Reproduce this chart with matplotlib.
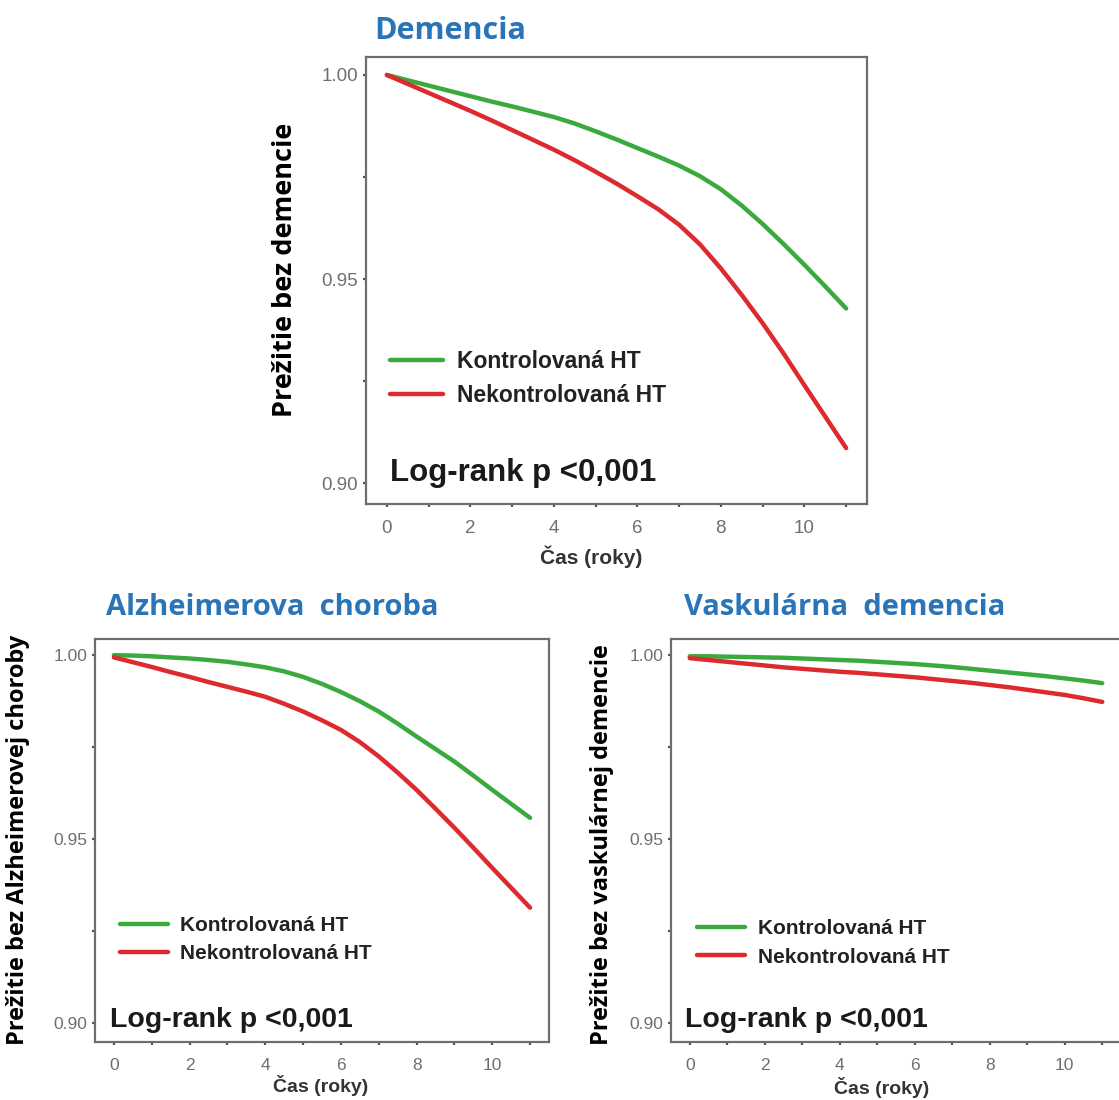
import numpy as np
import matplotlib
matplotlib.use("Agg")
import matplotlib.pyplot as plt
from matplotlib.ticker import MultipleLocator, FormatStrFormatter

# ---------------- Data ----------------
years = [0, 0.5, 1, 1.5, 2, 2.5, 3, 3.5, 4, 4.5, 5, 5.5,
         6, 6.5, 7, 7.5, 8, 8.5, 9, 9.5, 10, 10.5, 11]

dem_controlled = [1.000, 0.9987, 0.9974, 0.9961, 0.9948, 0.9935, 0.9923, 0.9910, 0.9897, 0.9881, 0.9862, 0.9842,
                  0.9821, 0.9800, 0.9778, 0.9752, 0.9720, 0.9680, 0.9635, 0.9586, 0.9535, 0.9482, 0.9428]
dem_uncontrolled = [1.000, 0.9978, 0.9956, 0.9934, 0.9912, 0.9889, 0.9865, 0.9841, 0.9817, 0.9791, 0.9763, 0.9734,
                    0.9703, 0.9671, 0.9633, 0.9585, 0.9526, 0.9461, 0.9392, 0.9318, 0.9240, 0.9163, 0.9086]

alz_controlled = [1.000, 0.9999, 0.9997, 0.9994, 0.9991, 0.9987, 0.9982, 0.9975, 0.9967, 0.9956, 0.9941, 0.9922,
                  0.9900, 0.9875, 0.9847, 0.9814, 0.9779, 0.9745, 0.9711, 0.9673, 0.9634, 0.9596, 0.9558]
alz_uncontrolled = [0.9994, 0.9981, 0.9968, 0.9954, 0.9941, 0.9927, 0.9914, 0.9901, 0.9887, 0.9868, 0.9847, 0.9823,
                    0.9797, 0.9764, 0.9725, 0.9681, 0.9634, 0.9583, 0.9531, 0.9477, 0.9422, 0.9368, 0.9314]

vas_controlled = [0.9997, 0.9997, 0.9996, 0.9995, 0.9994, 0.9993, 0.9991, 0.9989, 0.9987, 0.9985, 0.9982, 0.9979,
                  0.9976, 0.9972, 0.9968, 0.9963, 0.9958, 0.9953, 0.9948, 0.9943, 0.9937, 0.9931, 0.9924]
vas_uncontrolled = [0.9992, 0.9987, 0.9982, 0.9977, 0.9972, 0.9967, 0.9963, 0.9959, 0.9955, 0.9952, 0.9948, 0.9944,
                    0.9940, 0.9935, 0.9930, 0.9925, 0.9919, 0.9913, 0.9906, 0.9899, 0.9892, 0.9883, 0.9873]

titles = ["Demencia", "Alzheimerova  choroba", "Vaskulárna  demencia"]
ylabels = ["Prežitie bez demencie",
           "Prežitie bez Alzheimerovej choroby",
           "Prežitie bez vaskulárnej demencie"]
series_labels = ["Kontrolovaná HT", "Nekontrolovaná HT"]
xlabel = "Čas (roky)"
pvalue_text = "Log-rank p <0,001"

GREEN = "#3aaa3f"
RED = "#dc2a2e"
TITLE_BLUE = "#2a74b8"
SPINE = "#6e6e6e"
TICKLBL = "#6f6f6f"

plt.rcParams['font.family'] = ['Liberation Sans', 'DejaVu Sans']

fig = plt.figure(figsize=(11.19, 11.0), dpi=100)
W, H = 1119, 1100


def add_axes_px(left, top, right, bottom):
    return fig.add_axes([left / W, 1 - bottom / H, (right - left) / W, (bottom - top) / H])


panels = [
    dict(box=(366, 57, 867, 504), green=dem_controlled, red=dem_uncontrolled,
         title_xy=(0.168, 1.059), ylab_xy=(-0.162, 0.523), xlab_xy=(0.449, -0.119),
         leg_xy=(0.048, 0.281), p_xy=(0.048, 0.069), leg_fs=16.5, ylab_fs=19.5, p_fs=22.5,
         tick_fs=13.5),
    dict(box=(95, 639, 549, 1042), green=alz_controlled, red=alz_uncontrolled,
         title_xy=(0.39, 1.077), ylab_xy=(-0.170, 0.501), xlab_xy=(0.496, -0.107),
         leg_xy=(0.055, 0.254), p_xy=(0.033, 0.055), leg_fs=15, ylab_fs=17, p_fs=20.5,
         tick_fs=12.5),
    dict(box=(671, 639, 1121, 1042), green=vas_controlled, red=vas_uncontrolled,
         title_xy=(0.387, 1.077), ylab_xy=(-0.153, 0.489), xlab_xy=(0.469, -0.114),
         leg_xy=(0.058, 0.246), p_xy=(0.031, 0.055), leg_fs=15, ylab_fs=17, p_fs=20.5,
         tick_fs=12.5),
]

for i, p in enumerate(panels):
    ax = add_axes_px(*p["box"])
    ax.plot(years, p["green"], color=GREEN, lw=3.2, solid_capstyle='round', label=series_labels[0])
    ax.plot(years, p["red"], color=RED, lw=3.2, solid_capstyle='round', label=series_labels[1])

    ax.set_xlim(-0.5, 11.5)
    ax.set_ylim(0.8949, 1.0044)
    ax.xaxis.set_major_locator(MultipleLocator(2))
    ax.xaxis.set_minor_locator(MultipleLocator(1))
    ax.yaxis.set_major_locator(MultipleLocator(0.05))
    ax.yaxis.set_minor_locator(MultipleLocator(0.025))
    ax.yaxis.set_major_formatter(FormatStrFormatter('%.2f'))

    for sp in ax.spines.values():
        sp.set_color(SPINE)
        sp.set_linewidth(1.6)
    ax.tick_params(which='both', direction='out', length=2.5, width=1.6, color='#555555')
    ax.tick_params(axis='both', which='major', labelsize=p["tick_fs"], labelcolor=TICKLBL)
    ax.tick_params(axis='x', which='major', pad=9)
    ax.tick_params(axis='y', which='major', pad=3)

    ax.set_title(titles[i], x=p["title_xy"][0], y=p["title_xy"][1], pad=0, va='center', ha='center',
                 fontsize=22 if i == 0 else 21, fontweight='bold', color=TITLE_BLUE,
                 family=['Open Sans', 'DejaVu Sans'])
    ax.set_ylabel(ylabels[i], fontsize=p["ylab_fs"], fontweight='bold', color='black',
                  family=['Open Sans', 'DejaVu Sans'], va='center')
    ax.yaxis.set_label_coords(*p["ylab_xy"])
    ax.set_xlabel(xlabel, fontsize=15 if i == 0 else 14, fontweight='bold', color='#333333', va='center')
    ax.xaxis.set_label_coords(*p["xlab_xy"])

    leg = ax.legend(loc='center left', bbox_to_anchor=p["leg_xy"], frameon=False,
                    borderpad=0, borderaxespad=0, handlelength=2.3, handletextpad=0.6,
                    labelspacing=0.45, prop={'weight': 'bold', 'size': p["leg_fs"]})
    for t in leg.get_texts():
        t.set_color('#222222')

    ax.text(p["p_xy"][0], p["p_xy"][1], pvalue_text, transform=ax.transAxes,
            ha='left', va='center', fontsize=p["p_fs"], fontweight='bold', color='#1a1a1a')

fig.savefig("out.png", dpi=100)
